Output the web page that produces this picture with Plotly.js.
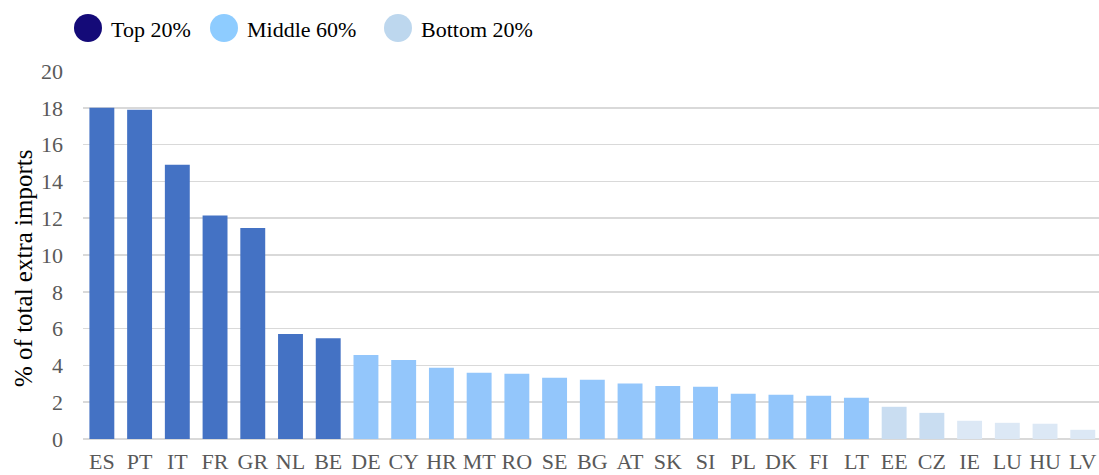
<!DOCTYPE html>
<html><head><meta charset="utf-8">
<script src="https://cdn.plot.ly/plotly-3.0.1.min.js"></script>
<style>html,body{margin:0;padding:0;background:#fff}#chart{width:1099px;height:475px}</style>
</head><body><div id="chart"></div>
<script>
const countries = ["ES","PT","IT","FR","GR","NL","BE","DE","CY","HR","MT","RO","SE","BG","AT","SK","SI","PL","DK","FI","LT","EE","CZ","IE","LU","HU","LV"];
const values = [18.0,17.9,14.9,12.15,11.47,5.7,5.48,4.57,4.3,3.87,3.6,3.55,3.33,3.22,3.02,2.88,2.84,2.46,2.4,2.35,2.24,1.75,1.42,0.99,0.88,0.83,0.5];
const groups = ["Top","Top","Top","Top","Top","Top","Top","Mid","Mid","Mid","Mid","Mid","Mid","Mid","Mid","Mid","Mid","Mid","Mid","Mid","Mid","Bot","Bot","Bot2","Bot2","Bot2","Bot2"];
const legendLabels = ["Top 20%","Middle 60%","Bottom 20%"];
const legendColors = ["#140A78","#8ECCFF","#BDD7EE"];
const barColors = {Top:"#4472C4", Mid:"#93C6FB", Bot:"#C9DDF1", Bot2:"#DCE8F5"};
const yTitle = "% of total extra imports";
</script>
<script>
const n = countries.length;
const FONT = "Liberation Serif, Times New Roman, serif";
const trace = {
  type:"bar", x:countries, y:values,
  marker:{color:groups.map(g=>barColors[g]), line:{width:0}},
  showlegend:false, hoverinfo:"x+y"
};
const W = 1099, H = 475, L = 83, T = 71, PH = 368, PW = W - L;
const px = x => (x - L) / PW;
const py = y => (T + PH - y) / PH;
const shapes = [], annotations = [];
const legX = [88, 224, 398];
legendLabels.forEach((lab,i)=>{
  shapes.push({type:"circle", xref:"paper", yref:"paper",
    xsizemode:"pixel", ysizemode:"pixel",
    xanchor:px(legX[i]), yanchor:py(28),
    x0:-14, x1:14, y0:-14, y1:14,
    fillcolor:legendColors[i], line:{width:0}});
  annotations.push({xref:"paper", yref:"paper", x:px(legX[i]+21), y:py(30),
    xanchor:"left", yanchor:"middle", showarrow:false, text:lab,
    font:{family:FONT, size:22, color:"#000"}});
});
annotations.push({xref:"paper", yref:"paper", x:px(23), y:py(269), xanchor:"center", yanchor:"middle",
  showarrow:false, textangle:-90, text:yTitle, font:{family:FONT, size:25, color:"#000"}});
const layout = {
  width:W, height:H,
  margin:{l:L, r:0, t:T, b:H-T-PH},
  paper_bgcolor:"#fff", plot_bgcolor:"#fff",
  bargap:0.34,
  showlegend:false,
  font:{family:FONT},
  xaxis:{type:"category", range:[-0.5, n-0.5-0.07], automargin:false,
    showgrid:false, zeroline:false, showline:false, ticks:"",
    ticklabelstandoff:7,
    tickfont:{family:FONT, size:22, color:"#595959"}},
  yaxis:{range:[0,20], dtick:2, automargin:false, showgrid:true, gridcolor:"#D9D9D9", gridwidth:1.5,
    zeroline:true, zerolinecolor:"#D9D9D9", zerolinewidth:1.5, showline:false, ticks:"",
    ticklabelstandoff:19,
    tickfont:{family:FONT, size:22, color:"#595959"}},
  shapes:shapes, annotations:annotations
};
Plotly.newPlot("chart",[trace],layout,{displayModeBar:false, staticPlot:true});
</script>
</body></html>
